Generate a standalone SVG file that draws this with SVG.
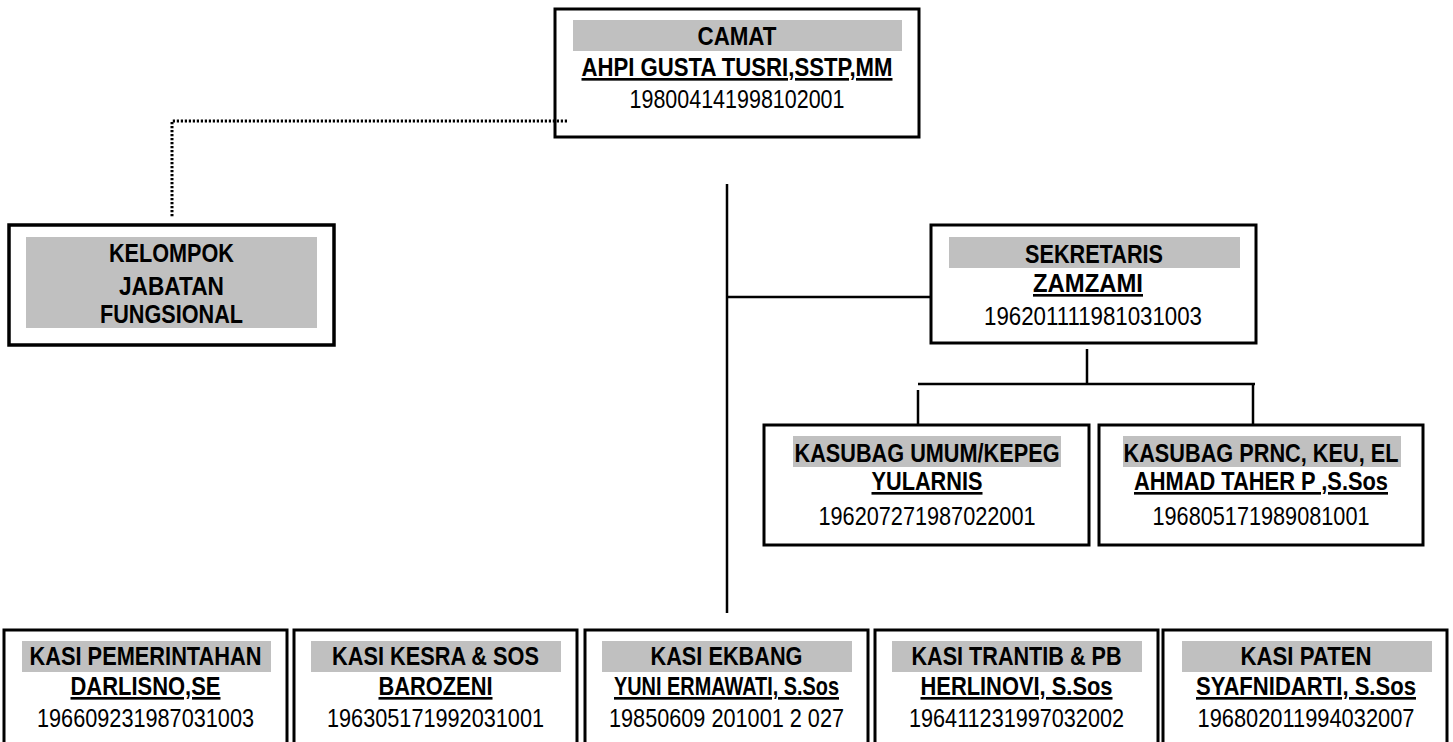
<svg xmlns="http://www.w3.org/2000/svg" width="1453" height="742" viewBox="0 0 1453 742">
<style>
.box{fill:#fff;stroke:#000;stroke-width:3}
.band{fill:#c0c0c0}
.t{font-family:"Liberation Sans Narrow","Liberation Sans",Arial,sans-serif;font-size:26.5px;text-anchor:middle;fill:#000}
.h{font-weight:bold}
.n{font-weight:bold;text-decoration:underline}
.c{fill:none;stroke:#000;stroke-width:2.5}
.d{fill:none;stroke:#000;stroke-width:3;stroke-dasharray:2.2 1.8}
</style>
<rect width="1453" height="742" fill="#fff"/>
<g id="camat">
<rect class="box" x="555" y="9" width="364" height="128"/>
<rect class="band" x="573" y="20" width="329" height="31"/>
<text class="t h" x="737" y="45" textLength="79" lengthAdjust="spacingAndGlyphs">CAMAT</text>
<text class="t n" x="737" y="76" textLength="311" lengthAdjust="spacingAndGlyphs">AHPI GUSTA TUSRI,SSTP,MM</text>
<text class="t" x="737" y="108" textLength="215" lengthAdjust="spacingAndGlyphs">198004141998102001</text>
</g>
<g id="kelompok">
<rect class="box" x="9" y="225" width="325" height="120" style="stroke-width:3.5"/>
<rect class="band" x="26" y="237" width="291" height="91"/>
<text class="t h" x="171.5" y="262" textLength="125" lengthAdjust="spacingAndGlyphs">KELOMPOK</text>
<text class="t h" x="171.5" y="295" textLength="105" lengthAdjust="spacingAndGlyphs">JABATAN</text>
<text class="t h" x="171.5" y="323" textLength="143" lengthAdjust="spacingAndGlyphs">FUNGSIONAL</text>
</g>
<g id="sekretaris">
<rect class="box" x="931" y="225" width="325" height="118"/>
<rect class="band" x="949" y="237" width="291" height="31"/>
<text class="t h" x="1094" y="263" textLength="138" lengthAdjust="spacingAndGlyphs">SEKRETARIS</text>
<text class="t n" x="1088" y="292" textLength="110" lengthAdjust="spacingAndGlyphs">ZAMZAMI</text>
<text class="t" x="1093" y="325" textLength="218" lengthAdjust="spacingAndGlyphs">196201111981031003</text>
</g>
<g id="kasubag-umum">
<rect class="box" x="764" y="425" width="325" height="120"/>
<rect class="band" x="793" y="436" width="268" height="31"/>
<text class="t h" x="927" y="462" textLength="265" lengthAdjust="spacingAndGlyphs">KASUBAG UMUM/KEPEG</text>
<text class="t n" x="927" y="490" textLength="111" lengthAdjust="spacingAndGlyphs">YULARNIS</text>
<text class="t" x="927" y="525" textLength="217" lengthAdjust="spacingAndGlyphs">196207271987022001</text>
</g>
<g id="kasubag-prnc">
<rect class="box" x="1099" y="425" width="324" height="120"/>
<rect class="band" x="1123" y="436" width="278" height="31"/>
<text class="t h" x="1261" y="462" textLength="275" lengthAdjust="spacingAndGlyphs">KASUBAG PRNC, KEU, EL</text>
<text class="t n" x="1261" y="490" textLength="254" lengthAdjust="spacingAndGlyphs">AHMAD TAHER P ,S.Sos</text>
<text class="t" x="1261" y="525" textLength="217" lengthAdjust="spacingAndGlyphs">196805171989081001</text>
</g>
<g id="kasi-pemerintahan">
<rect class="box" x="4" y="630" width="283" height="130"/>
<rect class="band" x="22" y="641" width="249" height="31"/>
<text class="t h" x="145.5" y="665" textLength="232" lengthAdjust="spacingAndGlyphs">KASI PEMERINTAHAN</text>
<text class="t n" x="145.5" y="695" textLength="150" lengthAdjust="spacingAndGlyphs">DARLISNO,SE</text>
<text class="t" x="145.5" y="727" textLength="217" lengthAdjust="spacingAndGlyphs">196609231987031003</text>
</g>
<g id="kasi-kesra">
<rect class="box" x="294" y="630" width="283" height="130"/>
<rect class="band" x="311" y="641" width="250" height="31"/>
<text class="t h" x="435.5" y="665" textLength="207" lengthAdjust="spacingAndGlyphs">KASI KESRA &amp; SOS</text>
<text class="t n" x="435.5" y="695" textLength="114" lengthAdjust="spacingAndGlyphs">BAROZENI</text>
<text class="t" x="435.5" y="727" textLength="217" lengthAdjust="spacingAndGlyphs">196305171992031001</text>
</g>
<g id="kasi-ekbang">
<rect class="box" x="585" y="630" width="283" height="130"/>
<rect class="band" x="602" y="641" width="250" height="31"/>
<text class="t h" x="726.5" y="665" textLength="152" lengthAdjust="spacingAndGlyphs">KASI EKBANG</text>
<text class="t n" x="726.5" y="695" textLength="225" lengthAdjust="spacingAndGlyphs">YUNI ERMAWATI, S.Sos</text>
<text class="t" x="726.5" y="727" textLength="235" lengthAdjust="spacingAndGlyphs">19850609 201001 2 027</text>
</g>
<g id="kasi-trantib">
<rect class="box" x="875" y="630" width="283" height="130"/>
<rect class="band" x="892" y="641" width="250" height="31"/>
<text class="t h" x="1016.5" y="665" textLength="210" lengthAdjust="spacingAndGlyphs">KASI TRANTIB &amp; PB</text>
<text class="t n" x="1016.5" y="695" textLength="192" lengthAdjust="spacingAndGlyphs">HERLINOVI, S.Sos</text>
<text class="t" x="1016.5" y="727" textLength="215" lengthAdjust="spacingAndGlyphs">196411231997032002</text>
</g>
<g id="kasi-paten">
<rect class="box" x="1163" y="630" width="284" height="130"/>
<rect class="band" x="1182" y="641" width="250" height="31"/>
<text class="t h" x="1306" y="665" textLength="131" lengthAdjust="spacingAndGlyphs">KASI PATEN</text>
<text class="t n" x="1306" y="695" textLength="220" lengthAdjust="spacingAndGlyphs">SYAFNIDARTI, S.Sos</text>
<text class="t" x="1306" y="727" textLength="217" lengthAdjust="spacingAndGlyphs">196802011994032007</text>
</g>
<g id="connectors">
<path class="d" d="M567 121 H172 V218"/>
<path class="c" d="M727 184 V613"/>
<path class="c" d="M727 297 H931"/>
<path class="c" d="M1087 349 V385"/>
<path class="c" d="M918 384 H1255"/>
<path class="c" d="M918 390 V425"/>
<path class="c" d="M1253 384 V425"/>
</g>
</svg>
